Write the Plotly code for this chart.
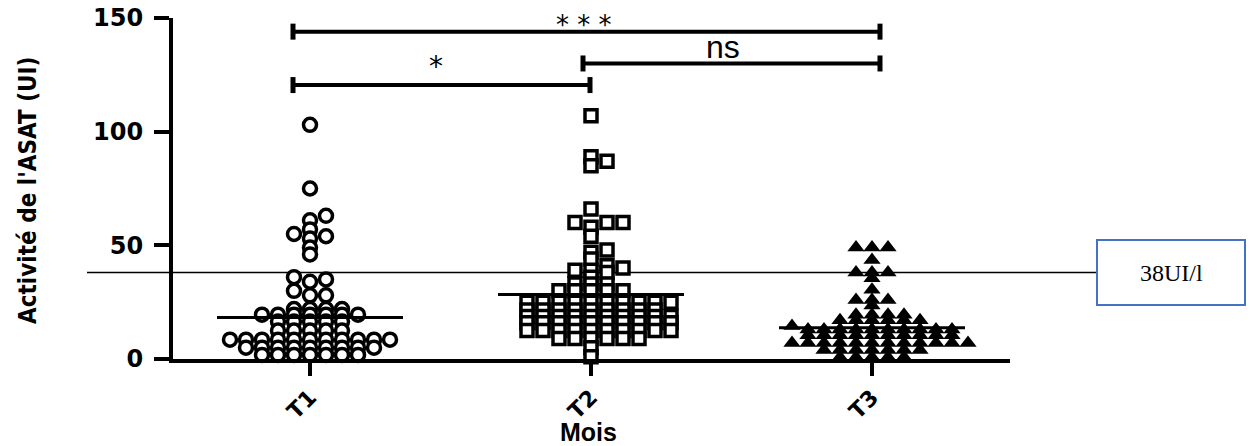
import plotly.graph_objects as go

# ---------------- data ----------------
categories = ["T1", "T2", "T3"]

t1_values = [103, 75, 63, 61, 57, 55, 54, 53, 49, 46, 36, 35, 34, 30, 28, 28,
             22, 22, 22, 22,
             19.5, 19.5, 19.5, 19.5, 19.5, 19.5, 19.5,
             16.5, 16.5, 16.5, 16.5, 16.5,
             12.5, 12.5, 12.5, 12.5, 12.5,
             8.5, 8.5, 8.5, 8.5, 8.5, 8.5, 8.5, 8.5, 8.5, 8.5, 8.5,
             5, 5, 5, 5, 5, 5, 5, 5, 5,
             1.8, 1.8, 1.8, 1.8, 1.8, 1.8, 1.8]

t2_values = [107, 89, 87, 85, 66, 60, 60, 60, 58, 54, 48, 47, 44,
             41, 40, 39, 39, 38, 36, 33, 33, 33, 30, 30, 30, 30, 30,
             25, 25, 25, 25, 25, 25, 25, 25, 25, 25,
             21.5, 21.5, 21.5, 21.5, 21.5, 21.5, 21.5, 21.5, 21.5,
             18.7, 18.7, 18.7, 18.7, 18.7, 18.7, 18.7, 18.7, 18.7, 18.7,
             16, 16, 16, 16, 16, 16, 16, 16, 16, 16,
             12.5, 12.5, 12.5, 12.5, 12.5, 12.5, 12.5, 12.5, 12.5, 12.5,
             9, 9, 9, 9, 9, 9, 5, 1]

t3_values = [49, 49, 49, 43.5, 38, 38, 38, 35.5, 30.5, 26, 26, 26, 23.5,
             19.5, 19.5, 19.5, 19.5, 17, 17, 17, 17, 17, 17, 14.5,
             13, 13, 13, 13, 13, 13, 13, 13, 13, 13,
             10.5, 10.5, 10.5, 10.5, 10.5, 10.5, 10.5, 10.5, 10.5, 10.5,
             7, 7, 7, 7, 7, 7, 7, 7, 7, 7, 7, 7,
             4, 4, 4, 4, 4, 4, 4,
             0.8, 0.8, 0.8, 0.8, 0.8]

group_means = [18.3, 28.4, 13.8]

ref_limit = 38
ref_label = "38UI/l"

# (from group, to group, level, label)
brackets = [("T1", "T3", 144, "* * *"),
            ("T1", "T2", 120.5, "*"),
            ("T2", "T3", 130, "ns")]

y_ticks = [0, 50, 100, 150]
y_title = "Activité de l'ASAT (UI)"
x_title = "Mois"

# ---------------- layout geometry ----------------
W, H = 1250, 446
ML, MT = 173, 18
PLOT_R, PLOT_B = 1010, 359
MR = W - PLOT_R
MB = H - PLOT_B
PLOT_W = PLOT_R - ML
PLOT_H = PLOT_B - MT
T1_PX, SPACING = 310, 281
X_RANGE = [1 - (T1_PX - ML) / SPACING, 1 + (PLOT_R - T1_PX) / SPACING]
Y_RANGE = [0, 150]
PX_X = PLOT_W / (X_RANGE[1] - X_RANGE[0])
PX_Y = PLOT_H / (Y_RANGE[1] - Y_RANGE[0])


def px_paper_x(px):
    return (px - ML) / PLOT_W


def px_paper_y(py):
    return (PLOT_B - py) / PLOT_H


def beeswarm(values, w=16.0, h=5.5, step=8.0):
    """Compute horizontal offsets (category units) so markers do not overlap."""
    order = sorted(range(len(values)), key=lambda i: values[i])
    cands = [0.0]
    for k in range(1, 60):
        cands += [k * step, -k * step]
    placed = []
    offs = [0.0] * len(values)
    for i in order:
        yp = values[i] * PX_Y
        chosen = 0.0
        for c in cands:
            if all(not (abs(px - c) < w and abs(py - yp) < h) for px, py in placed):
                chosen = c
                break
        placed.append((chosen, yp))
        offs[i] = chosen / PX_X
    return offs


groups = [t1_values, t2_values, t3_values]
marker_styles = [
    dict(symbol="circle", size=13, color="white", line=dict(color="black", width=3.5)),
    dict(symbol="square", size=12, color="white", line=dict(color="black", width=3.5)),
    dict(symbol="triangle-up", size=15, color="black", line=dict(color="black", width=0)),
]

fig = go.Figure()

for gi, (vals, mstyle) in enumerate(zip(groups, marker_styles)):
    pos = gi + 1
    offs = beeswarm(vals)
    fig.add_trace(go.Scatter(
        x=[pos + o for o in offs], y=vals, mode="markers",
        marker=mstyle, cliponaxis=False, showlegend=False, hoverinfo="y",
    ))

# mean lines
MEAN_HALF = 93 / PX_X
for gi, m in enumerate(group_means):
    pos = gi + 1
    fig.add_trace(go.Scatter(
        x=[pos - MEAN_HALF, pos + MEAN_HALF], y=[m, m], mode="lines",
        line=dict(color="black", width=3), cliponaxis=False,
        showlegend=False, hoverinfo="skip",
    ))

# significance brackets
cat_pos = {c: i + 1 for i, c in enumerate(categories)}
right_shift = {"T1": 0.0, "T2": -1 / PX_X, "T3": 8 / PX_X}
start_shift = {"T1": -17 / PX_X, "T2": -8 / PX_X, "T3": 0.0}
cap_half = 8 / PX_Y
annotations = []
label_style = {"* * *": dict(size=26, yshift=-10, xshift=-3, fam="DejaVu Sans"),
               "*": dict(size=28, yshift=0, xshift=-6, fam="DejaVu Sans"),
               "ns": dict(size=32, yshift=-4, xshift=-9, fam="Liberation Sans, Arial")}
for a, b, lvl, lab in brackets:
    x0 = cat_pos[a] + start_shift[a]
    x1 = cat_pos[b] + right_shift[b]
    fig.add_trace(go.Scatter(x=[x0, x1], y=[lvl, lvl], mode="lines",
                             line=dict(color="black", width=4), cliponaxis=False,
                             showlegend=False, hoverinfo="skip"))
    for xe in (x0, x1):
        fig.add_trace(go.Scatter(x=[xe, xe], y=[lvl - cap_half, lvl + cap_half], mode="lines",
                                 line=dict(color="black", width=5), cliponaxis=False,
                                 showlegend=False, hoverinfo="skip"))
    st = label_style[lab]
    annotations.append(dict(
        x=(x0 + x1) / 2, y=lvl, xref="x", yref="y", text=lab, showarrow=False,
        yanchor="bottom", xanchor="center", xshift=st["xshift"], yshift=st["yshift"],
        font=dict(family=st["fam"], size=st["size"], color="black"),
    ))

# reference limit line and its label box
shapes = [
    dict(type="line", xref="paper", yref="y",
         x0=px_paper_x(87), x1=px_paper_x(1097), y0=ref_limit, y1=ref_limit,
         line=dict(color="black", width=1.5), layer="below"),
    dict(type="rect", xref="paper", yref="paper",
         x0=px_paper_x(1097), x1=px_paper_x(1245),
         y0=px_paper_y(305), y1=px_paper_y(240),
         line=dict(color="#4472C4", width=2), fillcolor="white"),
]
annotations.append(dict(
    x=px_paper_x(1171), y=ref_limit, xref="paper", yref="y", text=ref_label,
    showarrow=False, xanchor="center", yanchor="middle",
    font=dict(family="Liberation Serif, Times New Roman", size=24, color="black"),
))

# axis titles
annotations.append(dict(
    x=px_paper_x(28), y=px_paper_y(191), xref="paper", yref="paper",
    text=y_title, showarrow=False, textangle=-90, xanchor="center", yanchor="middle",
    font=dict(family="Liberation Sans Narrow, DejaVu Sans Condensed, Arial Narrow",
              size=24, color="black", weight="bold"),
))
annotations.append(dict(
    x=px_paper_x(588), y=px_paper_y(432), xref="paper", yref="paper",
    text=x_title, showarrow=False, xanchor="center", yanchor="middle",
    font=dict(family="Liberation Sans, Arial", size=25, color="black", weight="bold"),
))

fig.update_layout(
    width=W, height=H,
    margin=dict(l=ML, r=MR, t=MT, b=MB, autoexpand=False),
    plot_bgcolor="white", paper_bgcolor="white",
    shapes=shapes, annotations=annotations,
    xaxis=dict(range=X_RANGE, tickvals=[1, 2, 3], ticktext=categories,
               tickangle=-45, showgrid=False, zeroline=False,
               showline=True, linecolor="black", linewidth=3.5,
               ticks="outside", ticklen=13, tickwidth=3.5, tickcolor="black",
               tickfont=dict(family="DejaVu Sans", size=22, color="black", weight="bold")),
    yaxis=dict(range=Y_RANGE, tickvals=y_ticks, showgrid=False, zeroline=False,
               showline=True, linecolor="black", linewidth=4,
               ticks="outside", ticklen=15, tickwidth=3.5, tickcolor="black",
               ticklabelstandoff=6,
               tickfont=dict(family="DejaVu Sans", size=24, color="black", weight="bold")),
)

fig.write_html("out.html",
               config={"displayModeBar": False},
               post_script="document.body.style.margin='0';document.body.style.overflow='hidden';")
